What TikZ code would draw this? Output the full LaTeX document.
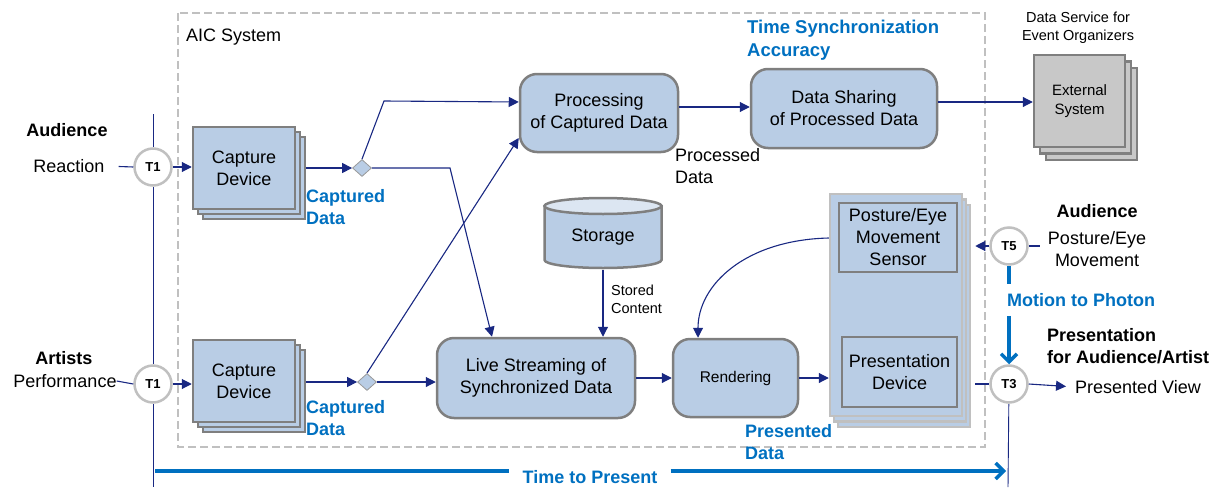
\documentclass[tikz,border=0pt]{standalone}
\usepackage{fontspec}
\setmainfont{Liberation Sans}
\usetikzlibrary{shapes.geometric,arrows.meta,shadows,backgrounds,calc}
\definecolor{navy}{RGB}{25,40,130}
\definecolor{tblue}{RGB}{0,112,192}
\definecolor{boxfill}{RGB}{185,205,229}
\definecolor{toplight}{RGB}{220,230,242}
\definecolor{boxgray}{RGB}{127,127,127}
\definecolor{circgray}{RGB}{192,192,192}
\definecolor{extfill}{RGB}{200,200,200}
\newcommand\myfsa{\fontsize{18}{22}\selectfont}
\newcommand\myfsb{\fontsize{18.5}{23}\selectfont}
\newcommand\myfss{\fontsize{15}{19}\selectfont}
\newcommand\myfst{\fontsize{14.5}{18.5}\selectfont}
\begin{document}
\begin{tikzpicture}[x=1pt,y=-1pt,
  lbl/.style={inner sep=0pt, align=center, font=\myfsa},
  lblb/.style={inner sep=0pt, align=center, font=\myfsa\bfseries},
  blbl/.style={inner sep=0pt, align=left, font=\myfsa\bfseries, text=tblue},
  slbl/.style={inner sep=0pt, align=center, font=\myfst},
  capbox/.style={draw=boxgray, fill=boxfill, line width=2.5pt, minimum width=102pt, minimum height=82pt,
     inner sep=2pt, align=center, font=\myfsa,
     copy shadow={shadow xshift=10pt, shadow yshift=-10pt, draw=boxgray, fill=boxfill, line width=2.5pt},
     copy shadow={shadow xshift=5pt, shadow yshift=-5pt, draw=boxgray, fill=boxfill, line width=2.5pt}},
  extbox/.style={draw=boxgray, fill=extfill, line width=2.5pt, minimum width=91pt, minimum height=92pt,
     inner sep=2pt, align=center, font=\myfss,
     copy shadow={shadow xshift=12pt, shadow yshift=-13pt, draw=boxgray, fill=extfill, line width=2.5pt},
     copy shadow={shadow xshift=6pt, shadow yshift=-6.5pt, draw=boxgray, fill=extfill, line width=2.5pt}},
  procbox/.style={draw=boxgray, fill=boxfill, line width=2.5pt, rounded corners=17pt,
     inner sep=2pt, align=center, font=\myfsa},
  panelbox/.style={draw=circgray, fill=boxfill, line width=2.5pt, minimum width=132pt, minimum height=222pt,
     inner sep=0pt,
     copy shadow={shadow xshift=8pt, shadow yshift=-11pt, draw=circgray, fill=boxfill, line width=2.5pt},
     copy shadow={shadow xshift=4pt, shadow yshift=-5.5pt, draw=circgray, fill=boxfill, line width=2.5pt}},
  innerbox/.style={draw=boxgray, fill=boxfill, line width=2.5pt, inner sep=2pt, align=center, font=\myfsa},
  tc/.style={circle, draw=circgray, line width=2.5pt, fill=white, minimum size=37pt, inner sep=0pt,
     font=\fontsize{13}{13}\selectfont\bfseries},
  dia/.style={diamond, draw=boxgray!80, fill=boxfill, line width=0.8pt, aspect=1.1,
     minimum width=19pt, minimum height=17pt, inner sep=0pt},
  conn/.style={draw=navy, line width=1.1pt},
  arr/.style={-{Triangle[length=10pt,width=10pt]}},
  tline/.style={draw=tblue, line width=3.5pt},
  tarr/.style={-{Straight Barb[length=8pt,width=16pt,line width=3.5pt]}},
  dashbox/.style={draw=circgray, line width=2pt, dash pattern=on 8pt off 4pt}
]
\useasboundingbox (0,0) rectangle (1222,487);

% AIC system frame
\draw[dashbox] (178,13) rectangle (985,447);
\node[lbl, anchor=west] (aic) at (186,37) {AIC System};

% left labels
\node[lblb] (aud1) at (67,130) {Audience};
\node[lbl] (reac) at (69,166) {Reaction};
\node[lblb] (art) at (64,358) {Artists};
\node[lbl] (perf) at (65,381) {Performance};

% time points
\node[tc] (T1a) at (153,167) {T1};
\node[tc] (T1b) at (153,384) {T1};
\node[tc] (T5) at (1009,246) {T5};
\node[tc] (T3) at (1009,384) {T3};
\coordinate (ltop) at (153,114);
\coordinate (lbot) at (153,487);
\coordinate (rbot) at (1008,487);

% boxes
\node[capbox] (cap1) at (244,168) {Capture\\Device};
\node[capbox] (cap2) at (244,381) {Capture\\Device};
\node[dia] (d1) at (362,168) {};
\node[dia] (d2) at (367,382) {};
\node[procbox, minimum width=158pt, minimum height=78pt] (proc) at (599,113) {Processing\\of Captured Data};
\node[procbox, minimum width=186pt, minimum height=79pt] (share) at (844,108.5) {Data Sharing\\of Processed Data};
\node[extbox] (ext) at (1079.5,101) {External\\System};
\node[procbox, minimum width=198pt, minimum height=80pt] (live) at (536,378) {Live Streaming of\\Synchronized Data};
\node[procbox, minimum width=125pt, minimum height=78pt, font=\fontsize{15.5}{19}\selectfont] (rend) at (735.5,378) {Rendering};

% storage cylinder
\node[minimum width=117pt, minimum height=72pt, inner sep=0pt] (stor) at (603,234) {};
\path[draw=boxgray, fill=boxfill, line width=2.5pt]
  (544.5,206) -- (544.5,260) arc[start angle=180, end angle=360, x radius=58.5pt, y radius=8pt]
  -- (661.5,206) -- cycle;
\draw[draw=boxgray, fill=toplight, line width=2.5pt] (603,206) ellipse [x radius=58.5pt, y radius=8pt];
\node[lbl] at (603,237) {Storage};

% presentation panel
\node[panelbox] (panel) at (896,305) {};
\node[innerbox, minimum width=118pt, minimum height=69pt] (sens) at (898,237.5) {Posture/Eye\\Movement\\Sensor};
\node[innerbox, minimum width=115pt, minimum height=70pt] (pdev) at (899.5,372) {Presentation\\Device};
\coordinate (pr) at ([xshift=12pt]panel.east);

% other labels
\node[blbl, anchor=west] (cd1) at (306,207) {Captured\\Data};
\node[blbl, anchor=west] (cd2) at (306,418) {Captured\\Data};
\node[blbl, anchor=west] (pd) at (745,442) {Presented\\Data};
\node[blbl, anchor=west, font=\myfsb\bfseries] (tsa) at (747,40) {Time Synchronization\\Accuracy};
\node[lbl, anchor=west, align=left] (procd) at (675,166) {Processed\\Data};
\node[slbl] (dsv) at (1078,28) {Data Service for\\Event Organizers};
\node[slbl, anchor=west, align=left, font=\fontsize{14.5}{18}\selectfont] (stc) at (611,299) {Stored\\Content};
\node[lblb] (aud2) at (1097,211) {Audience};
\node[lbl] (pem) at (1097,249) {Posture/Eye\\Movement};
\node[blbl, inner ysep=9pt] (m2p) at (1081,300) {Motion to Photon};
\node[lblb, anchor=west, align=left] (pres) at (1047,346) {Presentation\\for Audience/Artist};
\node[lbl, anchor=west] (pv) at (1075,387) {Presented View};
\node[blbl, inner xsep=13pt] (ttp) at (590,477) {Time to Present};
\coordinate (tstart) at (155,471);
\coordinate (tend) at (1006,471);

% timeline axes
\begin{scope}[on background layer]
  \draw[conn, line width=0.9pt] (ltop) -- (T1a) -- (T1b) -- (lbot);
  \draw[conn, line width=0.9pt] (T3) -- (rbot);
\end{scope}

% connectors
\draw[conn, shorten <=14pt] (reac.east) -- (T1a.west);
\draw[conn] (perf.east) -- (T1b.west);
\draw[conn, arr] (T1a.east) -- (cap1.west |- T1a);
\draw[conn, arr] (T1b.east) -- (cap2.west |- T1b);
\draw[conn, arr] ([xshift=10pt]cap1.east |- d1) -- (d1.west);
\draw[conn, arr] ([xshift=10pt]cap2.east |- d2) -- (d2.west);
\draw[conn, arr] (d1.north) -- (384,101) -- (proc.west |- 0,102);
\draw[conn, arr] (d1.east) -- (450,168) -- (live.north -| 492,0);
\draw[conn, arr] (d2.north) -- (proc.west |- 0,138);
\draw[conn, arr] (d2.east) -- (live.west |- d2);
\draw[conn, arr] (stor.south) -- (stor.south |- live.north);
\draw[conn, arr] (live.east) -- (rend.west);
\draw[conn, arr] (rend.east) -- (panel.west |- rend.east);
\draw[conn, arr] (proc.east |- 0,107) -- (share.west |- 0,107);
\draw[conn, arr] (share.east |- 0,102) -- (ext.west |- 0,102);
\draw[conn, arr] (panel.west |- 0,238) .. controls (745,240) and (698,285) .. (rend.north -| 698,0);
\draw[conn, arr] (T5.west) -- (pr |- T5);
\draw[conn, shorten >=8pt] (T5.east) -- (pem.west |- T5);
\draw[conn] (pr |- T3) -- (T3.west);
\draw[conn, arr, shorten >=9pt] (T3.east) -- (pv.west);

% motion to photon and time to present
\draw[tline] (T5.south) -- (m2p.north -| T5.south);
\draw[tline, tarr] (m2p.south -| T3.north) -- (T3.north);
\draw[tline] (tstart) -- (ttp.west |- tstart);
\draw[tline, tarr] (ttp.east |- tend) -- (tend);
\end{tikzpicture}
\end{document}
